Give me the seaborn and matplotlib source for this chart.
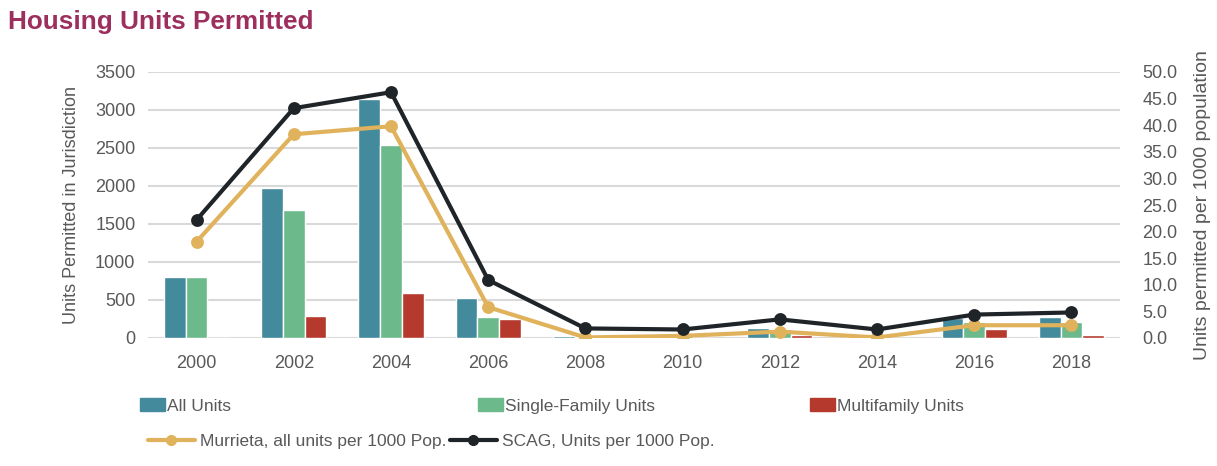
import numpy as np
import pandas as pd
import matplotlib
matplotlib.use("Agg")
import matplotlib.pyplot as plt
import seaborn as sns
from matplotlib.patches import Patch
from matplotlib.lines import Line2D

years = ["2000", "2002", "2004", "2006", "2008", "2010", "2012", "2014", "2016", "2018"]
all_units = [800, 1980, 3140, 530, 20, 40, 130, 10, 260, 270]
single_family = [800, 1690, 2540, 270, 15, 35, 120, 8, 215, 215]
multifamily = [0, 290, 590, 250, 5, 5, 40, 2, 115, 40]
murrieta_per_1000 = [18.1, 38.3, 39.8, 5.8, 0.1, 0.4, 1.2, 0.1, 2.4, 2.4]
scag_per_1000 = [22.2, 43.2, 46.2, 10.9, 1.8, 1.6, 3.5, 1.6, 4.4, 4.8]

bar_names = ["All Units", "Single-Family Units", "Multifamily Units"]
bar_colors = ["#428a9c", "#6cb98b", "#b5392c"]
line_names = ["Murrieta, all units per 1000 Pop.", "SCAG, Units per 1000 Pop."]
line_colors = ["#e0b25c", "#1f2429"]
gray = "#595959"

df = pd.DataFrame({
    "year": years * 3,
    "units": all_units + single_family + multifamily,
    "type": np.repeat(bar_names, len(years)),
})

sns.set_style("white")
plt.rcParams["font.family"] = ["Liberation Sans", "DejaVu Sans"]

fig = plt.figure(figsize=(12.17, 4.66), dpi=100)
ax = fig.add_axes([148 / 1217, 1 - 338 / 466, (1120 - 148) / 1217, (338 - 72) / 466])

sns.barplot(data=df, x="year", y="units", hue="type", hue_order=bar_names,
            palette=bar_colors, width=0.67, gap=0, saturation=1, ax=ax, legend=False)
ax.set_ylim(0, 3500)
ax.set_yticks(range(0, 3501, 500))
ax.set_xlim(-0.5, len(years) - 0.5)
ax.grid(axis="y", color="#d9d9d9", lw=1.5)
ax.set_axisbelow(True)
ax.tick_params(length=0, colors=gray, labelsize=13)
ax.tick_params(axis="y", pad=9)
ax.tick_params(axis="x", pad=12)
ax.set_xlabel("")
ax.set_ylabel("Units Permitted in Jurisdiction", color=gray, fontsize=13, labelpad=11)
for s in ax.spines.values():
    s.set_visible(False)

ax2 = ax.twinx()
sns.pointplot(x=years, y=murrieta_per_1000, color=line_colors[0], markers="o",
              markersize=7, linewidth=3, ax=ax2)
sns.pointplot(x=years, y=scag_per_1000, color=line_colors[1], markers="o",
              markersize=7, linewidth=3, ax=ax2)
ax2.set_ylim(0, 50)
ax2.set_yticks(np.arange(0, 50.1, 5))
ax2.set_yticklabels([f"{v:.1f}" for v in np.arange(0, 50.1, 5)])
ax2.tick_params(length=0, colors=gray, labelsize=13, pad=16)
ax2.set_ylabel("Units permitted per 1000 population", color=gray, fontsize=14, labelpad=12)
ax2.grid(False)
for s in ax2.spines.values():
    s.set_visible(False)

fig.text(8 / 1217, 1 - 22 / 466, "Housing Units Permitted", color="#9c2f5e",
         fontsize=18.8, fontweight="bold", va="center", ha="left")

# legend row 1: one legend per entry so they sit at fixed x positions
legend_font = {"family": ["Liberation Sans", "DejaVu Sans"], "size": 12.5}
for name, col, x in zip(bar_names, bar_colors, [124, 462, 794]):
    leg = fig.legend(handles=[Patch(color=col)], labels=[name], loc="center left",
                     bbox_to_anchor=(x / 1217, 1 - 406 / 466), frameon=False,
                     handlelength=1.45, handleheight=0.7, handletextpad=0.1, prop=legend_font)
    for t in leg.get_texts():
        t.set_color(gray)

line_handles = [Line2D([], [], color=c, lw=3, marker="o", markersize=7) for c in line_colors]
leg = fig.legend(handles=line_handles, labels=line_names, loc="center left", ncol=2,
                 bbox_to_anchor=(132 / 1217, 1 - 441 / 466), frameon=False,
                 handlelength=2.7, handletextpad=0.3, columnspacing=0.2, prop=legend_font)
for t in leg.get_texts():
    t.set_color(gray)

fig.savefig("out.png", dpi=100)
